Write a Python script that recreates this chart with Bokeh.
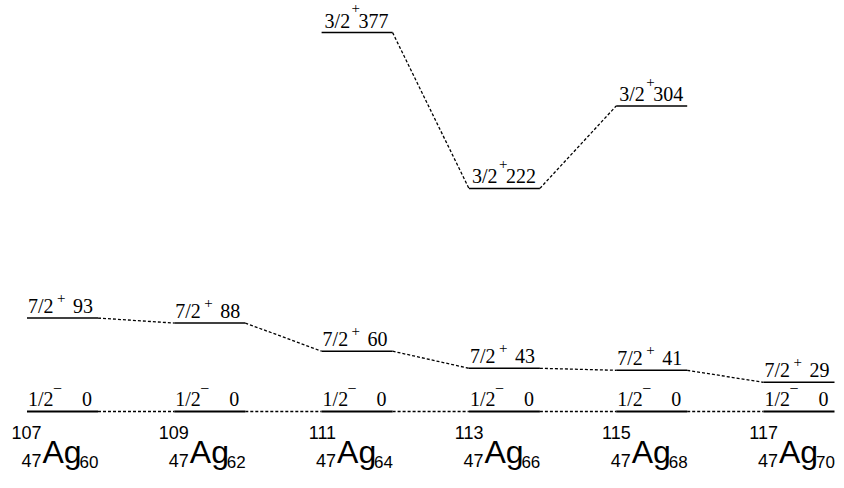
from bokeh.plotting import figure
from bokeh.models import Range1d, ColumnDataSource
from bokeh.embed import file_html
from bokeh.resources import INLINE
from bokeh.core.properties import value

# ---------------- data ----------------
mass_number = [107, 109, 111, 113, 115, 117]
proton_number = [47, 47, 47, 47, 47, 47]
neutron_number = [60, 62, 64, 66, 68, 70]
element = "Ag"

gs_spin = "1/2"
gs_parity = "\u2212"
gs_energy = [0, 0, 0, 0, 0, 0]

g72_spin = "7/2"
g72_parity = "+"
g72_energy = [93, 88, 60, 43, 41, 29]

d32_spin = "3/2"
d32_parity = "+"
d32_columns = [2, 3, 4]
d32_energy = [377, 222, 304]

# ---------------- figure ----------------
W, H = 836, 472
p = figure(width=W, height=H, output_backend="svg", toolbar_location=None,
           x_range=Range1d(-0.4209, 5.2546), y_range=Range1d(-60.70, 408.96),
           x_axis_type=None, y_axis_type=None, min_border=0)
p.grid.visible = False
p.outline_line_color = None
p.background_fill_color = "white"
p.border_fill_color = "white"

HW = 0.241  # half width of a level line (data units)
SERIF = value("Liberation Serif")
SANS = value("Liberation Sans")


def base(dy, fs):
    """screen offset that puts the text baseline dy px below the anchor"""
    return dy - 0.35 * fs


def band(cols, energies, spin, parity, lw, spin_dx, e_off, par_fs, par_dy,
         par_dx, lbl_dy):
    x0 = [c - HW for c in cols]
    x1 = [c + HW for c in cols]
    p.segment(x0=x0, y0=energies, x1=x1, y1=energies, line_color="black",
              line_width=lw)
    p.segment(x0=x1[:-1], y0=energies[:-1], x1=x0[1:], y1=energies[1:],
              line_color="black", line_width=1.3, line_dash="3 2")
    src = ColumnDataSource(dict(x0=x0, x1=x1, y=energies,
                                spin=[spin] * len(cols),
                                par=[parity] * len(cols),
                                en=[str(e) for e in energies]))
    p.text(x="x0", y="y", text="spin", source=src, x_offset=spin_dx,
           y_offset=base(lbl_dy, 20),
           text_font=SERIF, text_font_size="20px", text_align="left",
           text_baseline="alphabetic", text_color="black")
    p.text(x="x0", y="y", text="par", source=src, x_offset=par_dx,
           y_offset=base(lbl_dy + par_dy, par_fs),
           text_font=SERIF, text_font_size=f"{par_fs}px", text_align="left",
           text_baseline="alphabetic", text_color="black")
    p.text(x="x1", y="y", text="en", source=src, x_offset=e_off,
           y_offset=base(lbl_dy, 20),
           text_font=SERIF, text_font_size="20px", text_align="right",
           text_baseline="alphabetic", text_color="black")


cols_all = list(range(len(mass_number)))
band(cols_all, gs_energy, gs_spin, gs_parity, 2.2, 1, -6, 16, -12, 26, -5)
band(cols_all, g72_energy, g72_spin, g72_parity, 1.5, 1, -5, 15, -10, 30, -5)
band(d32_columns, d32_energy, d32_spin, d32_parity, 1.5, 3, -4, 15, -14, 30, -5)

# nuclide labels
lab = ColumnDataSource(dict(x=cols_all, y=[0] * len(cols_all),
                            A=[str(a) for a in mass_number],
                            Z=[str(z) for z in proton_number],
                            N=[str(n) for n in neutron_number],
                            el=[element] * len(cols_all)))
AG = 52  # baseline of the element symbol below the ground-state line (px)
p.text(x="x", y="y", text="el", source=lab, x_offset=-20, y_offset=base(AG, 32),
       text_font=SANS, text_font_size="32px", text_align="left",
       text_baseline="alphabetic", text_color="black")
p.text(x="x", y="y", text="A", source=lab, x_offset=-21,
       y_offset=base(AG - 25, 18),
       text_font=SANS, text_font_size="18px", text_align="right",
       text_baseline="alphabetic", text_color="black")
p.text(x="x", y="y", text="Z", source=lab, x_offset=-21,
       y_offset=base(AG + 3, 18),
       text_font=SANS, text_font_size="18px", text_align="right",
       text_baseline="alphabetic", text_color="black")
p.text(x="x", y="y", text="N", source=lab, x_offset=17,
       y_offset=base(AG + 4, 17),
       text_font=SANS, text_font_size="17px", text_align="left",
       text_baseline="alphabetic", text_color="black")

open("out.html", "w").write(file_html(p, INLINE))
